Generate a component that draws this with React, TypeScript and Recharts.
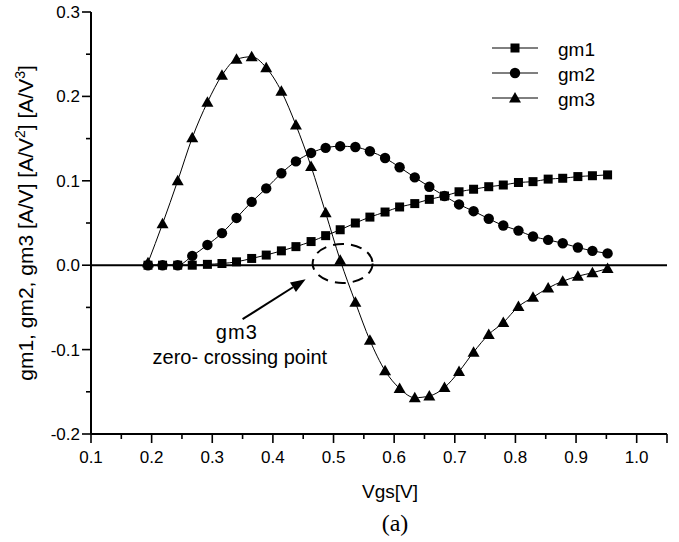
import {
  LineChart,
  Line,
  XAxis,
  YAxis,
  ReferenceLine,
  ReferenceDot,
  Legend,
} from 'recharts';

// Gate voltage sweep and the three transconductance derivatives
const VGS = [
  0.194, 0.218, 0.243, 0.267, 0.292, 0.316, 0.34, 0.365, 0.389, 0.414, 0.438,
  0.463, 0.487, 0.511, 0.536, 0.56, 0.585, 0.609, 0.634, 0.658, 0.683, 0.707,
  0.731, 0.756, 0.78, 0.805, 0.829, 0.854, 0.878, 0.903, 0.927, 0.952,
];
const GM1 = [
  0, 0, 0, 0, 0.001, 0.002, 0.004, 0.008, 0.012, 0.017, 0.022, 0.028, 0.035,
  0.042, 0.05, 0.057, 0.063, 0.069, 0.073, 0.078, 0.082, 0.087, 0.09, 0.093,
  0.095, 0.098, 0.099, 0.102, 0.103, 0.105, 0.106, 0.107,
];
const GM2 = [
  0, 0, 0, 0.011, 0.024, 0.038, 0.056, 0.075, 0.091, 0.109, 0.123, 0.133,
  0.139, 0.141, 0.14, 0.135, 0.127, 0.116, 0.104, 0.093, 0.082, 0.072, 0.064,
  0.055, 0.047, 0.041, 0.034, 0.03, 0.026, 0.021, 0.017, 0.014,
];
const GM3 = [
  0.003, 0.049, 0.1, 0.151, 0.193, 0.225, 0.244, 0.247, 0.234, 0.206, 0.166,
  0.117, 0.062, 0.006, -0.044, -0.089, -0.125, -0.146, -0.157, -0.155, -0.145,
  -0.126, -0.103, -0.082, -0.068, -0.049, -0.038, -0.027, -0.019, -0.013,
  -0.009, -0.004,
];

const X_TICKS = [
  0.1, 0.15, 0.2, 0.25, 0.3, 0.35, 0.4, 0.45, 0.5, 0.55, 0.6, 0.65, 0.7, 0.75,
  0.8, 0.85, 0.9, 0.95, 1.0, 1.05,
];
const Y_TICKS = [-0.2, -0.15, -0.1, -0.05, 0, 0.05, 0.1, 0.15, 0.2, 0.25, 0.3];

const SERIES = [
  { key: 'gm1', name: 'gm1', shape: 'square' },
  { key: 'gm2', name: 'gm2', shape: 'circle' },
  { key: 'gm3', name: 'gm3', shape: 'triangle' },
];

const data = VGS.map((v, i) => ({ vgs: v, gm1: GM1[i], gm2: GM2[i], gm3: GM3[i] }));

const SANS = '"Liberation Sans", Arial, sans-serif';
const SERIF = '"Liberation Serif", "Times New Roman", serif';

const isMajor = (v: number) => Math.abs(Math.round(v * 20)) % 2 === 0;

const Marker = ({ shape, cx, cy }: { shape: string; cx: number; cy: number }) => {
  if (shape === 'square') {
    return <rect x={cx - 4.5} y={cy - 4.5} width={9} height={9} fill="#000" />;
  }
  if (shape === 'circle') {
    return <circle cx={cx} cy={cy} r={5.2} fill="#000" />;
  }
  return (
    <polygon
      points={`${cx},${cy - 6} ${cx - 6},${cy + 4.5} ${cx + 6},${cy + 4.5}`}
      fill="#000"
    />
  );
};

// bottom ticks: labelled every 0.1, short minor ticks between; the last one closes the frame
const XTick = (props: any) => {
  const { x, y, payload } = props;
  const v = payload.value;
  const major = isMajor(v);
  const long = major || v > 1.04;
  return (
    <g>
      <line x1={x} y1={y} x2={x} y2={y + (long ? 9 : 5)} stroke="#000" strokeWidth={1.6} />
      {major && (
        <text x={x} y={y + 29} textAnchor="middle" fontSize={17} fontFamily={SANS} fill="#000">
          {v.toFixed(1)}
        </text>
      )}
    </g>
  );
};

const YTick = (props: any) => {
  const { x, y, payload } = props;
  const major = isMajor(payload.value);
  return (
    <g>
      <line x1={x - (major ? 9 : 5)} y1={y} x2={x} y2={y} stroke="#000" strokeWidth={1.6} />
      {major && (
        <text x={x - 11} y={y + 6} textAnchor="end" fontSize={17} fontFamily={SANS} fill="#000">
          {payload.value.toFixed(1)}
        </text>
      )}
    </g>
  );
};

const YTitle = (props: any) => {
  const vb = props.viewBox;
  const cx = vb.x + 25;
  const cy = vb.y + vb.height / 2;
  return (
    <text
      x={cx}
      y={cy + 8}
      transform={`rotate(-90 ${cx} ${cy})`}
      textAnchor="middle"
      fontSize={21}
      fontFamily={SANS}
      fill="#000"
    >
      gm1, gm2, gm3 [A/V] [A/V
      <tspan dy={-8} fontSize={14}>2</tspan>
      <tspan dy={8}>] [A/V</tspan>
      <tspan dy={-8} fontSize={14}>3</tspan>
      <tspan dy={8}>]</tspan>
    </text>
  );
};

const XTitle = (props: any) => {
  const vb = props.viewBox;
  const cx = vb.x + vb.width / 2;
  return (
    <g>
      <text x={cx + 11} y={vb.y + 64} textAnchor="middle" fontSize={19} fontFamily={SANS} fill="#000">
        Vgs[V]
      </text>
      <text x={cx + 16} y={vb.y + 97} textAnchor="middle" fontSize={24} fontFamily={SERIF} fill="#000">
        (a)
      </text>
    </g>
  );
};

const LegendBox = () => (
  <svg width={150} height={90}>
    {SERIES.map((s, i) => {
      const y = 18 + i * 25;
      return (
        <g key={s.key}>
          <line x1={12} y1={y} x2={58} y2={y} stroke="#000" strokeWidth={1} />
          <Marker shape={s.shape} cx={35} cy={y} />
          <text x={78} y={y + 8} fontSize={19} fontFamily={SANS} fill="#000">
            {s.name}
          </text>
        </g>
      );
    })}
  </svg>
);

// Arrow pointing at the gm3 zero crossing
const Arrow = (props: any) => {
  const { x1, y1, x2, y2 } = props;
  const len = Math.hypot(x2 - x1, y2 - y1);
  const ux = (x2 - x1) / len;
  const uy = (y2 - y1) / len;
  const hl = 15;
  const hw = 5.5;
  const bx = x2 - ux * hl;
  const by = y2 - uy * hl;
  return (
    <g>
      <line x1={x1} y1={y1} x2={bx} y2={by} stroke="#000" strokeWidth={2} />
      <polygon
        points={`${x2},${y2} ${bx - uy * hw},${by + ux * hw} ${bx + uy * hw},${by - ux * hw}`}
        fill="#000"
      />
    </g>
  );
};

const Ellipse = (props: any) => (
  <ellipse
    cx={props.cx}
    cy={props.cy}
    rx={30}
    ry={19.5}
    fill="none"
    stroke="#000"
    strokeWidth={2}
    strokeDasharray="11 7"
  />
);

const Note = (props: any) => (
  <g fontFamily={SANS} fontSize={20} fill="#000">
    <text x={props.cx} y={props.cy + 7} textAnchor="middle" letterSpacing={1}>
      gm3
    </text>
    <text x={props.cx + 3} y={props.cy + 32} textAnchor="middle">
      zero-  crossing point
    </text>
  </g>
);

export default function App() {
  return (
    <div style={{ position: 'absolute', left: 0, top: 0, background: '#fff' }}>
      <LineChart width={679} height={542} data={data} margin={{ top: 12, right: 12, bottom: 0, left: 0 }}>
        <XAxis
          dataKey="vgs"
          type="number"
          domain={[0.1, 1.05]}
          ticks={X_TICKS}
          interval={0}
          tickSize={0}
          tickMargin={0}
          tickLine={false}
          tick={<XTick />}
          height={108}
          axisLine={{ stroke: '#000', strokeWidth: 2 }}
          label={(p: any) => <XTitle {...p} />}
        />
        <XAxis
          xAxisId="top"
          dataKey="vgs"
          type="number"
          domain={[0.1, 1.05]}
          orientation="top"
          height={0}
          tick={false}
          tickLine={false}
          axisLine={{ stroke: '#000', strokeWidth: 2 }}
        />
        <YAxis
          type="number"
          domain={[-0.2, 0.3]}
          ticks={Y_TICKS}
          interval={0}
          tickSize={0}
          tickMargin={0}
          tickLine={false}
          tick={<YTick />}
          width={91}
          axisLine={{ stroke: '#000', strokeWidth: 2 }}
          label={(p: any) => <YTitle {...p} />}
        />
        <YAxis
          yAxisId="right"
          type="number"
          domain={[-0.2, 0.3]}
          orientation="right"
          width={0}
          tick={false}
          tickLine={false}
          axisLine={{ stroke: '#000', strokeWidth: 2 }}
        />
        <ReferenceLine y={0} stroke="#000" strokeWidth={2} />
        <Legend
          layout="horizontal"
          verticalAlign="middle"
          align="center"
          wrapperStyle={{ position: 'absolute', left: 480, top: 30, width: 150, height: 90 }}
          content={() => <LegendBox />}
        />
        {SERIES.map((s) => (
          <Line
            key={s.key}
            dataKey={s.key}
            name={s.name}
            type="monotone"
            stroke="#000"
            strokeWidth={1}
            isAnimationActive={false}
            dot={(p: any) => <Marker key={`${s.key}-${p.index}`} shape={s.shape} cx={p.cx} cy={p.cy} />}
            activeDot={false}
          />
        ))}
        <ReferenceDot x={0.515} y={0.002} r={0} shape={(p: any) => <Ellipse {...p} />} />
        <ReferenceLine
          segment={[
            { x: 0.35, y: -0.064 },
            { x: 0.454, y: -0.0166 },
          ]}
          shape={(p: any) => <Arrow {...p} />}
        />
        <ReferenceDot x={0.3405} y={-0.0795} r={0} shape={(p: any) => <Note {...p} />} />
      </LineChart>
    </div>
  );
}
